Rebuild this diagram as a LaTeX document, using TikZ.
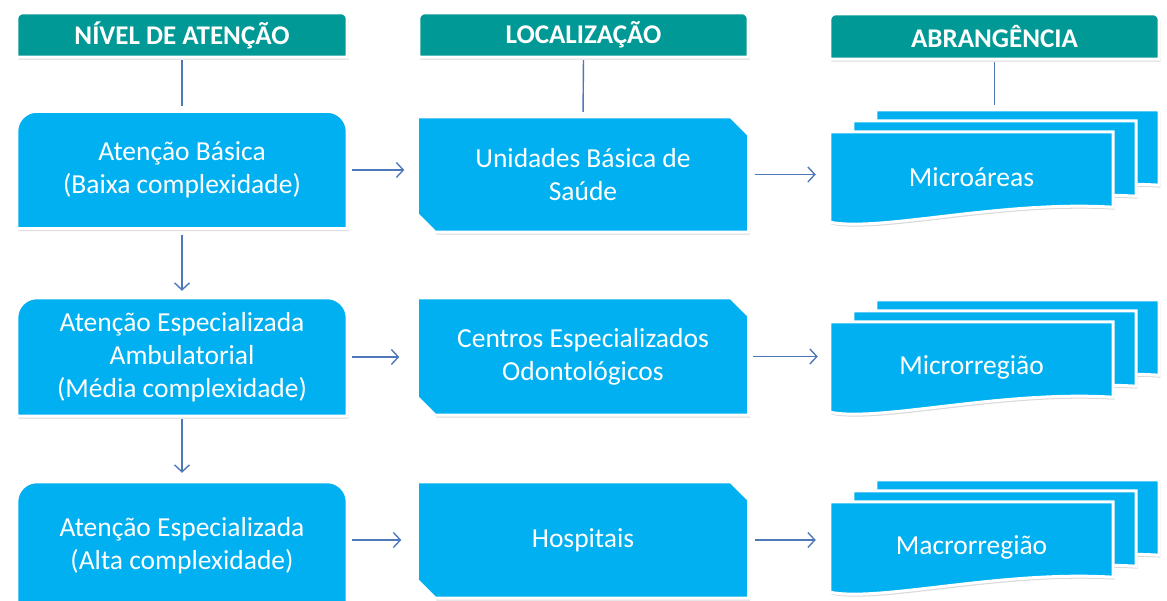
\documentclass[tikz,border=0pt]{standalone}
\usepackage{fontspec}
\setmainfont{Carlito}
\usetikzlibrary{arrows.meta,shadows,backgrounds}

\definecolor{hdrteal}{RGB}{0,153,150}
\definecolor{boxblue}{RGB}{0,176,240}
\definecolor{linkblue}{RGB}{79,120,185}

\tikzset{
	hdr/.style={minimum width=330pt, minimum height=44pt, inner sep=0pt, text=white, font=\bfseries\fontsize{27}{30}\selectfont},
	lvl/.style={minimum width=330pt, inner sep=0pt, text=white, align=center, font=\fontsize{27.5}{33}\selectfont},
	loc/.style={minimum width=331pt, inner sep=0pt, text=white, align=center, font=\fontsize{27.5}{33}\selectfont},
	area/.style={minimum width=283pt, minimum height=90pt, inner sep=0pt, text=white, font=\fontsize{27.5}{33}\selectfont},
	framed/.style={draw=white, line width=3pt, drop shadow={shadow xshift=1.5pt, shadow yshift=-2.5pt, opacity=.3}},
	hdrshape/.style={framed, fill=hdrteal},
	boxshape/.style={framed, fill=boxblue},
	conn/.style={draw=linkblue, line width=1.4pt},
	arr/.style={conn, -{Straight Barb[length=7pt,width=15pt]}}
}

% top rounded box
\newcommand{\topround}[3]{\path[#1] (#2.south west) [rounded corners=#3] -- (#2.north west) -- (#2.north east) [sharp corners] -- (#2.south east) -- cycle;}
% box with two cut corners
\newcommand{\cutbox}[1]{\path[boxshape] (#1.north west) -- ([xshift=-18pt]#1.north east) -- ([yshift=-18pt]#1.north east) -- (#1.south east) -- ([xshift=18pt]#1.south west) -- ([yshift=18pt]#1.south west) -- cycle;}
% one sheet of the document stack
\newcommand{\sheet}[1]{\path[boxshape] (#1.south west) -- (#1.north west) -- (#1.north east) -- ([yshift=15pt]#1.south east) .. controls ([xshift=-113pt,yshift=22pt]#1.south east) and ([xshift=50pt,yshift=-10pt]#1.south west) .. (#1.south west) -- cycle;}

\begin{document}
\begin{tikzpicture}[x=1pt, y=-1pt]
	\useasboundingbox (0,0) rectangle (1167,601);
	\clip (0,0) rectangle (1167,601);

	% headers
	\node [hdr] (h1) at (182,35) {NÍVEL DE ATENÇÃO};
	\node [hdr, minimum width=329pt] (h2) at (583.5,35) {LOCALIZAÇÃO};
	\node [hdr, minimum width=329pt, minimum height=45pt] (h3) at (994.5,36.5) {ABRANGÊNCIA};

	% levels
	\node [lvl, minimum height=117pt] (a1) at (182,170) {Atenção Básica\\(Baixa complexidade)};
	\node [lvl, minimum height=118pt] (a2) at (182,357) {Atenção Especializada\\Ambulatorial\\(Média complexidade)};
	\node [lvl, minimum height=128pt] (a3) at (182,546) {Atenção Especializada\\(Alta complexidade)};

	% places
	\node [loc, minimum height=115pt] (b1) at (583,174.5) {Unidades Básica de\\Saúde};
	\node [loc, minimum height=117pt] (b2) at (583,356.5) {Centros Especializados\\Odontológicos};
	\node [loc, minimum height=116pt] (b3) at (583,540) {Hospitais};

	% areas
	\node [area] (c1c) at (1017.5,155) {};
	\node [area] (c1b) at (994.5,166) {};
	\node [area] (c1) at (971.5,177) {Microáreas};
	\node [area] (c2c) at (1017.5,345) {};
	\node [area] (c2b) at (994.5,356) {};
	\node [area] (c2) at (971.5,367) {Microrregião};
	\node [area] (c3c) at (1017.5,525) {};
	\node [area] (c3b) at (994.5,536) {};
	\node [area] (c3) at (971.5,547) {Macrorregião};

	\begin{scope}[on background layer]
		\topround{hdrshape}{h1}{6pt}
		\topround{hdrshape}{h2}{6pt}
		\topround{hdrshape}{h3}{6pt}
		\topround{boxshape}{a1}{20pt}
		\topround{boxshape}{a2}{20pt}
		\topround{boxshape}{a3}{20pt}
		\cutbox{b1}
		\cutbox{b2}
		\cutbox{b3}
		\sheet{c1c} \sheet{c1b} \sheet{c1}
		\sheet{c2c} \sheet{c2b} \sheet{c2}
		\sheet{c3c} \sheet{c3b} \sheet{c3}
	\end{scope}

	% connectors
	\draw [conn, shorten <=3pt, shorten >=5pt] (h1.south) -- (a1.north);
	\draw [conn, shorten <=3pt, shorten >=5pt] (h2.south) -- (b1.north);
	\draw [conn, shorten <=3pt, shorten >=5pt] (h3.south) -- (h3.south |- c1c.north);
	\draw [arr, shorten <=5pt, shorten >=13pt] (a1.east) -- (a1.east -| b1.west);
	\draw [arr, shorten <=6pt, shorten >=14pt] (b1.east) -- (b1.east -| c1.west);
	\draw [arr, shorten <=5pt, shorten >=18pt] (a2.east) -- (a2.east -| b2.west);
	\draw [arr, shorten <=4pt, shorten >=12pt] (b2.east) -- (b2.east -| c2.west);
	\draw [arr, shorten <=5pt, shorten >=16pt] (a3.east |- b3.west) -- (b3.west);
	\draw [arr, shorten <=6pt, shorten >=14pt] (b3.east) -- (b3.east -| c3.west);
	\draw [arr, shorten <=6pt, shorten >=7pt] (a1.south) -- (a2.north);
	\draw [arr, shorten <=3pt, shorten >=9pt] (a2.south) -- (a3.north);
\end{tikzpicture}
\end{document}
